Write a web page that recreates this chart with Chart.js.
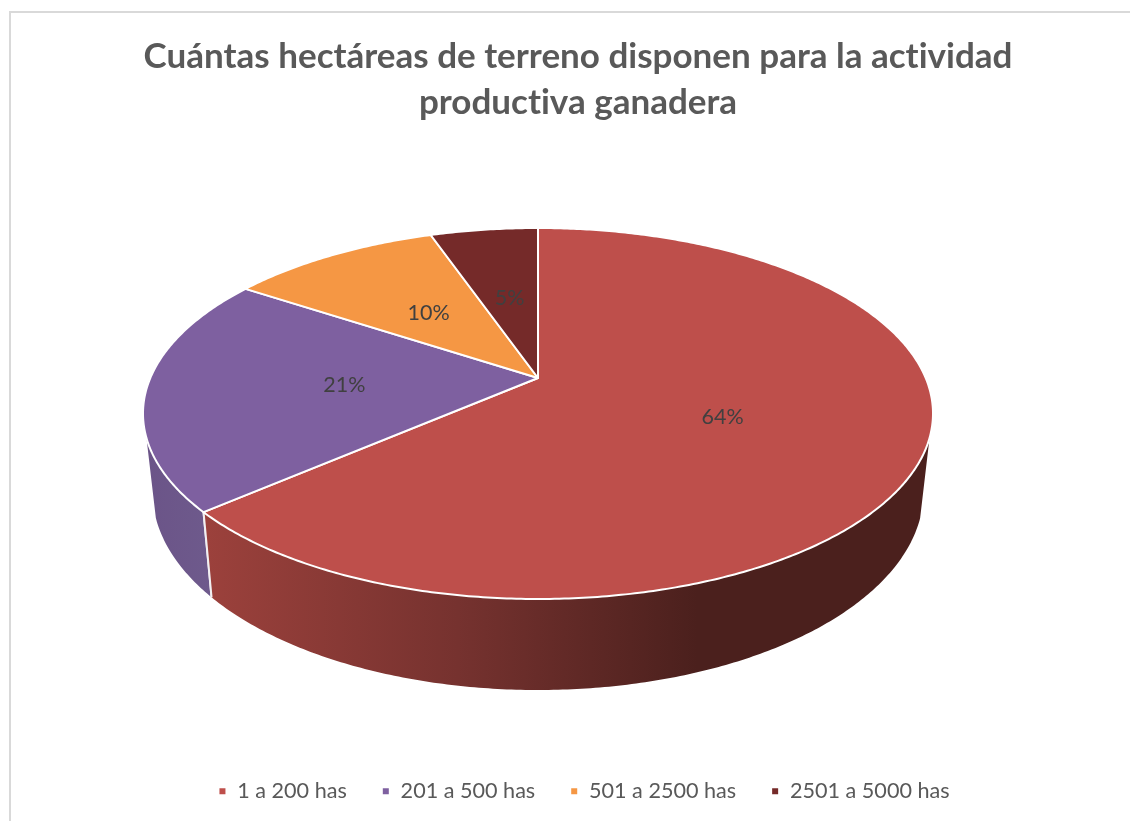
<!DOCTYPE html>
<html><head><meta charset="utf-8">
<style>html,body{margin:0;padding:0;background:#fff;overflow:hidden;width:1130px;height:821px}canvas{display:block}</style>
<script src="https://cdn.jsdelivr.net/npm/chart.js@4/dist/chart.umd.min.js"></script>
</head><body><canvas id="c" width="1156" height="821"></canvas>
<script>
const titleLines = ['Cuántas hectáreas de terreno disponen para la actividad','productiva ganadera'];
const categories = ['1 a 200 has','201 a 500 has','501 a 2500 has','2501 a 5000 has'];
const percentages = [63.6,20.7,10.4,5.3];
const sliceColors = ['#BE4F4B','#7E60A0','#F59744','#752A29'];
const wallStops = [
  [[0,'#9C413C'],[0.35,'#76322F'],[0.68,'#4B201D'],[1,'#4B201D']],
  [[0,'#6B5488'],[1,'#6E5A8C']],
  [[0,'#000'],[1,'#000']],
  [[0,'#000'],[1,'#000']]
];
const FONT = 'Lato, Carlito, "Open Sans", sans-serif';
// perspective view of the pie disc
const view = {cx:538, cy:378, a:387.7, b:178.7, k:-0.1914,
  lowX:0.976, lowY:1.068, lowY0:454, wallFrom:0.3155};
function project(u,v){
  const w = 1 + view.k*v;
  return [view.cx + view.a*u/w, view.cy + view.b*v/w];
}
function lower(p){
  return [view.cx + (p[0]-view.cx)*view.lowX, view.lowY0 + (p[1]-view.cy)*view.lowY];
}
function rim(a){ return project(Math.cos(a),Math.sin(a)); }
function rimPts(a0,a1){
  const n = Math.max(2,Math.ceil((a1-a0)/0.01)), out=[];
  for(let i=0;i<=n;i++) out.push(rim(a0+(a1-a0)*i/n));
  return out;
}
const piePlugin = {
  id:'pie3d',
  beforeDraw(chart){
    const c = chart.ctx;
    c.letterSpacing='0.001px';
    c.save();
    c.strokeStyle='#D9D9D9'; c.lineWidth=2;
    c.beginPath(); c.moveTo(10,830); c.lineTo(10,12); c.lineTo(1170,12); c.stroke();
    c.restore();
  },
  afterLayout(chart){
    chart.legend.left += 6; chart.legend.right += 6;
  },
  beforeDatasetsDraw(chart){
    const c = chart.ctx, arcs = chart.getDatasetMeta(0).data;
    const visFrom = Math.asin(view.wallFrom), visTo = Math.PI - visFrom;
    c.save();
    c.lineJoin='round';
    // side wall
    [1,0,2,3].forEach(i=>{
      let a0=arcs[i].startAngle, a1=arcs[i].endAngle;
      const s0=Math.max(a0,visFrom), s1=Math.min(a1,visTo);
      let from=s0,to=s1;
      if(from>=to){
        const t0=Math.max(a0-2*Math.PI,visFrom), t1=Math.min(a1-2*Math.PI,visTo);
        from=t0;to=t1;
        if(from>=to) return;
      }
      const top=rimPts(from,to), bot=top.map(lower);
      const xs=top.concat(bot).map(p=>p[0]);
      const g=c.createLinearGradient(Math.min(...xs),0,Math.max(...xs),0);
      wallStops[i].forEach(s=>g.addColorStop(s[0],s[1]));
      c.beginPath();
      top.forEach((p,j)=>j?c.lineTo(p[0],p[1]):c.moveTo(p[0],p[1]));
      bot.slice().reverse().forEach(p=>c.lineTo(p[0],p[1]));
      c.closePath(); c.fillStyle=g; c.fill();
      // seam between neighbouring slices
      [[from,a0],[to,a1]].forEach(e=>{
        if(Math.abs(e[0]-e[1])<1e-6 && e[0]>visFrom+1e-3 && e[0]<visTo-1e-3){
          const p=rim(e[0]), q=lower(p);
          c.beginPath(); c.moveTo(p[0],p[1]); c.lineTo(q[0],q[1]);
          c.strokeStyle='#F2F0F2'; c.lineWidth=2; c.stroke();
        }
      });
    });
    // top face
    arcs.forEach((el,i)=>{
      c.beginPath();
      c.moveTo(view.cx,view.cy);
      rimPts(el.startAngle,el.endAngle).forEach(p=>c.lineTo(p[0],p[1]));
      c.closePath();
      c.fillStyle=sliceColors[i]; c.fill();
      c.strokeStyle='#FFFFFF'; c.lineWidth=2; c.stroke();
    });
    // value labels
    c.font='21.5px '+FONT; c.fillStyle='#404040'; c.textAlign='center'; c.textBaseline='middle';
    arcs.forEach((el,i)=>{
      const m=(el.startAngle+el.endAngle)/2;
      const p=project(Math.cos(m)*0.5,Math.sin(m)*0.5);
      c.fillText(Math.round(percentages[i])+'%',p[0]+1,p[1]+1);
    });
    c.restore();
    return false;
  }
};
new Chart(document.getElementById('c'),{
  type:'pie',
  data:{labels:categories,datasets:[{data:percentages,backgroundColor:sliceColors,borderColor:'#fff',borderWidth:2}]},
  plugins:[piePlugin],
  options:{
    responsive:false,animation:false,
    layout:{padding:{top:0,bottom:9}},
    plugins:{
      tooltip:{enabled:false},
      title:{display:true,text:titleLines,color:'#595959',align:'center',
        font:{family:FONT,size:35,weight:'bold',lineHeight:1.31},padding:{top:34,bottom:10}},
      legend:{display:true,position:'bottom',align:'center',
        labels:{color:'#595959',font:{family:FONT,size:21.6},boxWidth:8,boxHeight:8,padding:35}}
    }
  }
});
</script></body></html>
